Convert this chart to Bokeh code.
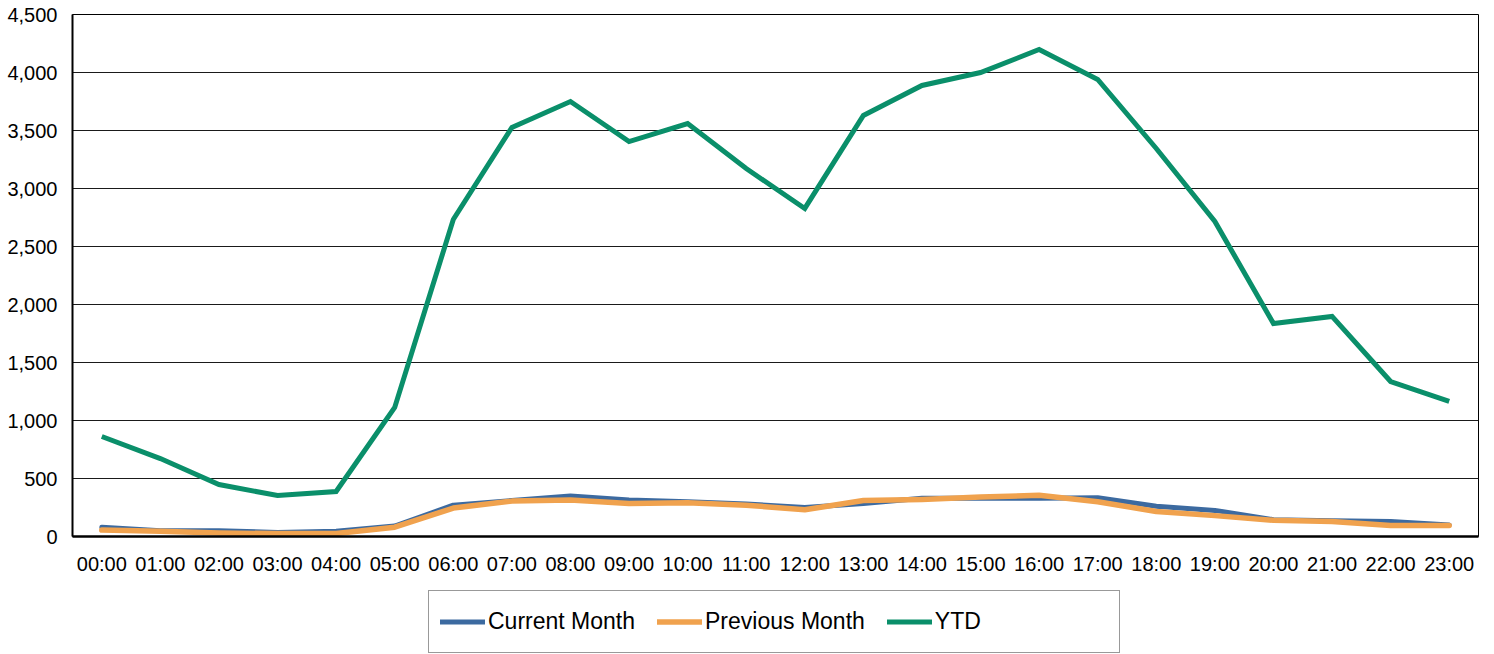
from bokeh.plotting import figure
from bokeh.layouts import column
from bokeh.models import (FactorRange, Range1d, FixedTicker, NumeralTickFormatter,
                          Legend, LegendItem, ColumnDataSource)
from bokeh.embed import file_html
from bokeh.resources import INLINE

hours = ["00:00", "01:00", "02:00", "03:00", "04:00", "05:00", "06:00", "07:00",
         "08:00", "09:00", "10:00", "11:00", "12:00", "13:00", "14:00", "15:00",
         "16:00", "17:00", "18:00", "19:00", "20:00", "21:00", "22:00", "23:00"]
current_month = [80, 50, 50, 35, 45, 90, 270, 310, 350, 315, 300, 280,
                 250, 285, 330, 330, 330, 335, 260, 225, 145, 135, 130, 100]
previous_month = [55, 45, 30, 25, 25, 80, 245, 305, 315, 285, 290, 270,
                  230, 310, 320, 340, 355, 300, 215, 180, 140, 130, 95, 95]
ytd = [862, 672, 448, 353, 388, 1112, 2733, 3526, 3750, 3405, 3560, 3172,
       2828, 3629, 3888, 4000, 4198, 3940, 3345, 2716, 1836, 1897, 1336, 1164]
y_ticks = [0, 500, 1000, 1500, 2000, 2500, 3000, 3500, 4000, 4500]

src = ColumnDataSource(dict(x=hours, cur=current_month, prev=previous_month, ytd=ytd))

FONT = "Liberation Sans"
C_CUR, C_PREV, C_YTD = "#3C6AA0", "#F0A24E", "#0A8F6A"

# ---------------- main chart ----------------
p = figure(frame_width=1406, frame_height=522, output_backend="svg", toolbar_location=None,
           x_range=FactorRange(factors=hours, range_padding=0),
           y_range=Range1d(0, 4500),
           min_border_left=72, min_border_right=16, min_border_top=14, min_border_bottom=0)

p.outline_line_color = "black"
p.outline_line_width = 1
p.background_fill_color = "white"
p.border_fill_color = "white"

p.xgrid.grid_line_color = None
p.ygrid.grid_line_color = "#1a1a1a"
p.ygrid.grid_line_width = 1

p.yaxis.ticker = FixedTicker(ticks=y_ticks)
p.yaxis.formatter = NumeralTickFormatter(format="0,0")
for ax in (p.xaxis[0], p.yaxis[0]):
    ax.major_tick_line_color = None
    ax.minor_tick_line_color = None
    ax.major_tick_out = 0
    ax.major_tick_in = 0
    ax.axis_line_color = "black"
    ax.major_label_text_font = FONT
    ax.major_label_text_font_size = "20px"
    ax.major_label_text_color = "black"
p.xaxis.axis_line_width = 2.5
p.yaxis.axis_line_width = 2
p.yaxis.major_label_standoff = 15
p.xaxis.major_label_standoff = 16

p.line("x", "cur", source=src, line_color=C_CUR, line_width=5,
       line_join="round", line_cap="round")
p.line("x", "prev", source=src, line_color=C_PREV, line_width=5.5,
       line_join="round", line_cap="round")
p.line("x", "ytd", source=src, line_color=C_YTD, line_width=5,
       line_join="miter", line_cap="butt")

# ---------------- legend strip (same series, y-range kept out of view) ----------------
p2 = figure(frame_width=1406, frame_height=77, output_backend="svg", toolbar_location=None,
            x_range=FactorRange(factors=hours, range_padding=0),
            y_range=Range1d(-200, -100),
            x_axis_location=None, y_axis_location=None,
            min_border_left=72, min_border_right=16, min_border_top=0, min_border_bottom=0)
p2.outline_line_color = None
p2.background_fill_color = "white"
p2.border_fill_color = "white"
p2.xgrid.grid_line_color = None
p2.ygrid.grid_line_color = None

l_cur = p2.line("x", "cur", source=src, line_color=C_CUR, line_width=5, line_cap="round")
l_prev = p2.line("x", "prev", source=src, line_color=C_PREV, line_width=5.5, line_cap="round")
l_ytd = p2.line("x", "ytd", source=src, line_color=C_YTD, line_width=5, line_cap="round")
l_pad = p2.line("x", "cur", source=src, line_alpha=0, line_width=1)

legend = Legend(items=[
    LegendItem(label="Current Month", renderers=[l_cur]),
    LegendItem(label="Previous Month", renderers=[l_prev]),
    LegendItem(label="YTD", renderers=[l_ytd]),
    LegendItem(label="\u00a0" * 9, renderers=[l_pad]),
], orientation="horizontal", location=(356, 1))
legend.label_text_font = FONT
legend.label_text_font_size = "23px"
legend.label_text_color = "black"
legend.label_standoff = 3
legend.glyph_width = 45
legend.glyph_height = 39
legend.spacing = 22
legend.padding = 11
legend.margin = 0
legend.border_line_color = "#333333"
legend.border_line_width = 1
legend.background_fill_color = "white"
legend.background_fill_alpha = 1
p2.add_layout(legend, "center")

layout = column(p, p2, spacing=0)

open("out.html", "w").write(file_html(layout, INLINE))
